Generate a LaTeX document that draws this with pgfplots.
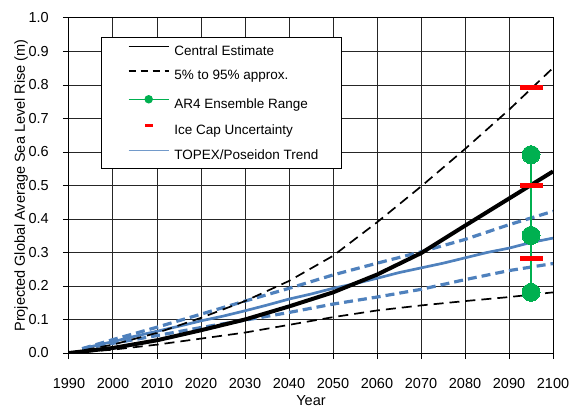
\documentclass[border=0pt]{standalone}
\usepackage{fontspec}
\setmainfont{Liberation Sans}
\usepackage{pgfplots}
\pgfplotsset{compat=1.18}
\definecolor{topex}{HTML}{4F81BD}
\definecolor{ar4}{HTML}{00B050}
\begin{document}
\begin{tikzpicture}
\begin{axis}[
  at={(0,0)}, anchor=south west,
  scale only axis, width=484pt, height=335pt,
  xmin=1990, xmax=2100, ymin=0, ymax=1,
  xtick={1990,2000,2010,2020,2030,2040,2050,2060,2070,2080,2090,2100},
  ytick={0,0.1,0.2,0.3,0.4,0.5,0.6,0.7,0.8,0.9,1.0},
  grid=major, grid style={black!85, line width=1pt},
  axis line style={black, line width=1pt},
  tick align=outside, major tick length=6pt,
  tick style={black, line width=1pt},
  tick pos=left,
  /pgf/number format/assume math mode=true,
  xticklabel style={/pgf/number format/1000 sep={}, font=\fontsize{14.5}{17}\selectfont, inner sep=0pt, anchor=base, yshift=-29pt},
  yticklabel style={/pgf/number format/.cd, fixed, fixed zerofill, precision=1, /tikz/.cd, font=\fontsize{14.5}{17}\selectfont, inner sep=0pt, anchor=east, xshift=-14pt},
  xlabel={Year},
  ylabel={Projected Global Average Sea Level Rise (m)},
  xlabel style={font=\fontsize{14.5}{17}\selectfont, inner sep=0pt, at={(axis description cs:0.5,-0.143)}, anchor=center},
  ylabel style={font=\fontsize{14.5}{17}\selectfont, at={(axis description cs:-0.0991,0.5)}, anchor=center},
  legend cell align=left,
  legend style={at={(0.0661,0.944)}, anchor=north west, draw=black, line width=1pt, fill=white,
    inner xsep=22.7pt, inner ysep=8pt, row sep=13.8pt, column sep=5pt,
    nodes={inner sep=0pt, font=\fontsize{13.5}{16}\selectfont}},
]
% legend images
\addlegendimage{legend image code/.code={\path (0pt,0pt); \draw[black, line width=1.1pt] (4pt,4.8pt) -- (44pt,4.8pt);}}
\addlegendentry{Central Estimate}
\addlegendimage{legend image code/.code={\path (0pt,0pt); \draw[black, line width=1.1pt, dash pattern=on 7pt off 5pt] (4pt,4.8pt) -- (44pt,4.8pt);}}
\addlegendentry{5\% to 95\% approx.}
\addlegendimage{legend image code/.code={\path (0pt,0pt); \draw[ar4, line width=1.3pt] (4pt,4.8pt) -- (44pt,4.8pt); \fill[ar4] (24pt,4.8pt) circle (3.7pt);}}
\addlegendentry{AR4 Ensemble Range}
\addlegendimage{legend image code/.code={\path (0pt,0pt) (44pt,0pt); \fill[red] (20.5pt,3.6pt) rectangle (27.5pt,6pt);}}
\addlegendentry{Ice Cap Uncertainty}
\addlegendimage{legend image code/.code={\path (0pt,0pt); \draw[topex!80!white, line width=1.3pt] (4pt,4.8pt) -- (44pt,4.8pt);}}
\addlegendentry{TOPEX/Poseidon Trend}

% TOPEX/Poseidon trend (blue)
\addplot[forget plot, topex, line width=3.2pt, dash pattern=on 9pt off 5pt] coordinates {
(1993,0.012) (2000,0.029) (2010,0.052) (2020,0.076) (2030,0.098) (2040,0.121) (2050,0.146) (2060,0.167) (2070,0.190) (2080,0.219) (2090,0.246) (2100,0.267)};
\addplot[forget plot, topex, line width=3.2pt, dash pattern=on 9pt off 5pt] coordinates {
(1993,0.013) (2000,0.040) (2010,0.077) (2020,0.116) (2030,0.155) (2040,0.193) (2050,0.233) (2060,0.268) (2070,0.302) (2080,0.339) (2090,0.383) (2100,0.423)};
\addplot[forget plot, topex, line width=2.7pt] coordinates {
(1993,0.013) (2000,0.034) (2005,0.050) (2010,0.065) (2015,0.080) (2020,0.096) (2025,0.110) (2030,0.126) (2035,0.143) (2040,0.161) (2045,0.176) (2050,0.193) (2055,0.207) (2060,0.223) (2065,0.240) (2070,0.254) (2075,0.268) (2080,0.284) (2085,0.300) (2090,0.313) (2095,0.330) (2100,0.343)};

% 5% to 95% range
\addplot[forget plot, black, line width=1.7pt, dash pattern=on 10pt off 6pt] coordinates {
(1990,0) (2000,0.010) (2010,0.025) (2020,0.043) (2030,0.061) (2040,0.084) (2050,0.107) (2060,0.127) (2070,0.142) (2080,0.155) (2090,0.167) (2100,0.181)};
\addplot[forget plot, black, line width=1.7pt, dash pattern=on 10pt off 6pt] coordinates {
(1990,0) (2000,0.025) (2010,0.060) (2020,0.105) (2030,0.155) (2040,0.215) (2050,0.290) (2060,0.390) (2070,0.497) (2080,0.609) (2090,0.726) (2100,0.851)};

% Central estimate
\addplot[forget plot, black, line width=4pt] coordinates {
(1990,0) (2000,0.015) (2010,0.038) (2020,0.068) (2030,0.100) (2040,0.139) (2050,0.181) (2060,0.234) (2070,0.298) (2080,0.380) (2090,0.461) (2100,0.542)};

% AR4 ensemble range
\addplot[forget plot, ar4, line width=2pt, mark=*, mark size=9pt, mark options={solid, fill=ar4, draw=ar4, line width=0pt}] coordinates {
(2095,0.181) (2095,0.351) (2095,0.592)};

% Ice cap uncertainty
\addplot[forget plot, only marks, mark=-, mark size=11.5pt, mark options={red, line width=5pt}] coordinates {
(2095,0.282) (2095,0.500) (2095,0.794)};
\end{axis}
\pgfresetboundingbox
\path (-69pt,-57pt) rectangle (511pt,353pt);
\end{tikzpicture}
\end{document}
